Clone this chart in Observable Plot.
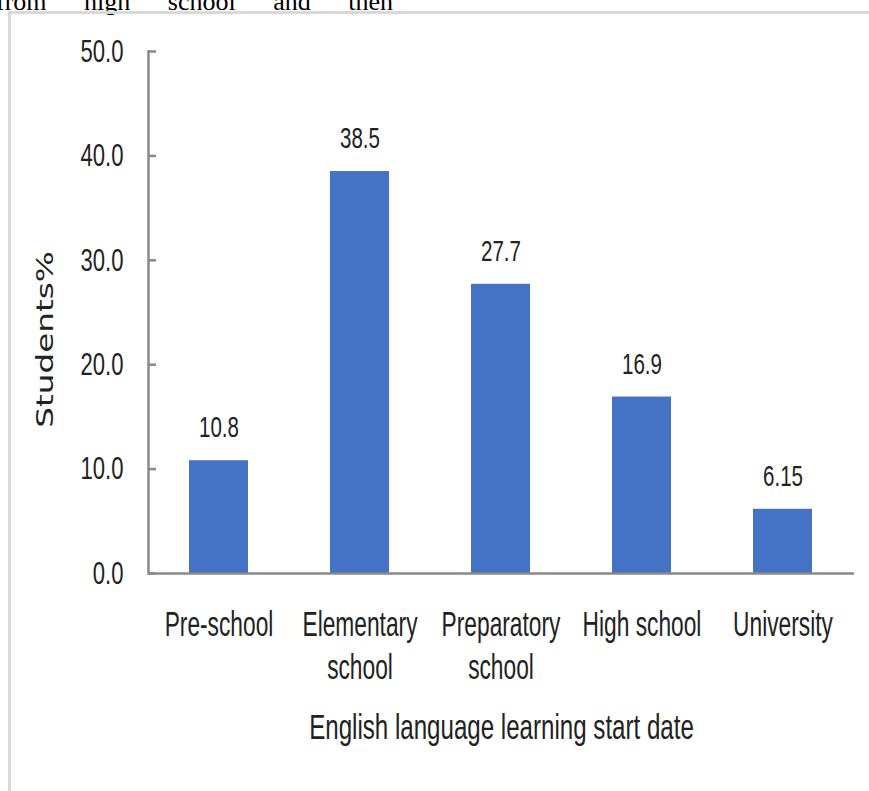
<!DOCTYPE html>
<html><head><meta charset="utf-8">
<script src="https://cdn.jsdelivr.net/npm/d3@7"></script>
<script src="https://cdn.jsdelivr.net/npm/@observablehq/plot@0.6"></script>
<style>
html,body{margin:0;padding:0;background:#fff;width:869px;height:791px;overflow:hidden;position:relative}
#top{position:absolute;left:-4px;top:-13px;font-family:"Liberation Serif",serif;font-size:26px;word-spacing:31px;white-space:nowrap;color:#000}
#box{position:absolute;left:8px;top:11px;width:880px;height:800px;border-left:3px solid #d9d9d9;border-top:3px solid #d9d9d9}
#chart{position:absolute;left:0;top:0}
</style></head><body>
<div id="top">from high school and then</div>
<div id="box"></div>
<div id="chart"></div>
<script>
const categories = ["Pre-school","Elementary\nschool","Preparatory\nschool","High school","University"];
const values = [10.8, 38.5, 27.7, 16.9, 6.15];
const valueLabels = ["10.8", "38.5", "27.7", "16.9", "6.15"];
const yTicks = [0, 10, 20, 30, 40, 50];
const xTitle = "English language learning start date";
const yTitle = "Students%";

const data = categories.map((c, i) => ({cat: c, value: values[i], label: valueLabels[i]}));
const font = '"Liberation Sans", Arial, sans-serif';

const chart = Plot.plot({
  width: 869, height: 791,
  marginLeft: 148, marginRight: 15, marginTop: 51, marginBottom: 218,
  style: {fontFamily: font, background: "transparent", color: "#222"},
  x: {domain: categories, paddingInner: 0.58, paddingOuter: 0.29, label: null},
  y: {domain: [0, 50], ticks: yTicks, label: null},
  marks: [
    Plot.barY(data, {x: "cat", y: "value", fill: "#4472C4"}),
    Plot.frame({anchor: "left", stroke: "#898989", strokeWidth: 2.5}),
    Plot.ruleY([0], {stroke: "#898989", strokeWidth: 2.5}),
    Plot.axisY({ticks: yTicks, tickFormat: d => d.toFixed(1), tickSize: -8, tickPadding: 33, fontSize: 32, stroke: "#898989", strokeWidth: 2.5, fill: "#222", label: null, className: "sq-ytick"}),
    Plot.axisX({tickSize: 0, tickPadding: 32, fontSize: 35, lineHeight: 1.23, fill: "#222", label: null, className: "sq-xtick"}),
    Plot.text(data, {x: "cat", y: "value", text: "label", dy: -33, fontSize: 30, fill: "#222", className: "sq-val"}),
    Plot.text([xTitle], {frameAnchor: "bottom", dy: 154, textAnchor: "middle", lineAnchor: "middle", fontSize: 36, fill: "#222", className: "sq-xtitle"}),
    Plot.text([yTitle], {frameAnchor: "left", dx: -103, dy: 27, rotate: -90, textAnchor: "middle", lineAnchor: "middle", fontSize: 23, fontFamily: "DejaVu Sans", fill: "#222", className: "sq-ytitle"})
  ]
});

// condense glyphs horizontally (the reference uses a narrow font)
const squeeze = {"sq-ytick": "scale(0.69,1)", "sq-xtick": "scale(0.65,1)", "sq-val": "scale(0.685,1)", "sq-xtitle": "scale(0.67,1)", "sq-ytitle": "scale(1.42,1)"};
for (const [cls, s] of Object.entries(squeeze)) {
  d3.select(chart).selectAll(`.${cls} text`).each(function() {
    const t = this.getAttribute("transform") || "";
    this.setAttribute("transform", `${t} ${s}`);
  });
}
document.getElementById("chart").appendChild(chart);
</script>
</body></html>
